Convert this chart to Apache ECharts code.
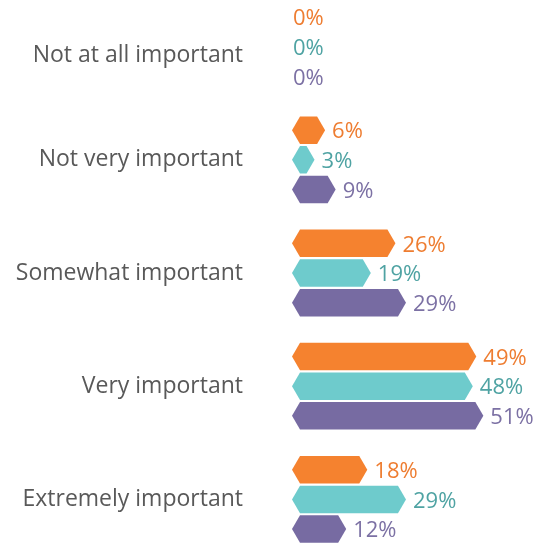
<!DOCTYPE html>
<html>
<head>
<meta charset="utf-8">
<script src="https://cdn.jsdelivr.net/npm/echarts@6/dist/echarts.min.js"></script>
<style>html,body{margin:0;padding:0;background:#fff;}#chart{width:540px;height:544px;}</style>
</head>
<body>
<div id="chart"></div>
<script>
const categories = ['Not at all important', 'Not very important', 'Somewhat important', 'Very important', 'Extremely important'];
const orangeValues = [0, 6, 26, 49, 18];
const tealValues = [0, 3, 19, 48, 29];
const purpleValues = [0, 9, 29, 51, 12];

const barColors = ['#F5822F', '#6ECBCC', '#776BA2'];
const labelColors = ['#EE7D31', '#4FA3A3', '#7C71A4'];
const FONT = '"Open Sans", sans-serif';

function makeRender(idx) {
  return function (params, api) {
    const v = api.value(0);
    const cat = api.value(1);
    const p = api.coord([v, cat]);
    const z = api.coord([0, cat]);
    const band = api.size([0, 1])[1];
    const pitch = band * 0.262;
    const h = band * 0.243;
    const cy = p[1] + (idx - 1) * pitch;
    const x0 = z[0] - 12, x1 = p[0];
    const children = [];
    if (v > 0) {
      const tip = Math.min(8, (x1 - x0) / 2);
      children.push({
        type: 'polygon',
        shape: { points: [[x0, cy], [x0 + tip, cy - h / 2], [x1 - tip, cy - h / 2], [x1, cy], [x1 - tip, cy + h / 2], [x0 + tip, cy + h / 2]] },
        style: { fill: barColors[idx] }
      });
    }
    children.push({
      type: 'text',
      style: {
        text: v + '%',
        x: v > 0 ? x1 + 7 : z[0] - 11,
        y: cy + 2,
        verticalAlign: 'middle',
        align: 'left',
        fill: labelColors[idx],
        fontSize: 22,
        fontFamily: FONT
      }
    });
    return { type: 'group', children: children };
  };
}

function toData(arr) { return arr.map((v, i) => [v, i]); }

const chart = echarts.init(document.getElementById('chart'));
chart.setOption({
  animation: false,
  grid: { left: 304, right: 25, top: -10, bottom: -12, outerBoundsMode: 'none' },
  xAxis: { type: 'value', min: 0, max: 60, show: false },
  yAxis: {
    type: 'category', inverse: true,
    data: categories,
    axisLine: { show: false }, axisTick: { show: false },
    axisLabel: {
      fontSize: 23, fontFamily: FONT, color: '#595959', margin: 61,
      formatter: (val, i) => i === 0 ? '{low|' + val + '}' : val,
      rich: { low: { fontSize: 23, fontFamily: FONT, color: '#595959', padding: [18, 0, 0, 0], verticalAlign: 'bottom' } }
    }
  },
  series: [
    { type: 'custom', renderItem: makeRender(0), data: toData(orangeValues), encode: { x: 0, y: 1 } },
    { type: 'custom', renderItem: makeRender(1), data: toData(tealValues), encode: { x: 0, y: 1 } },
    { type: 'custom', renderItem: makeRender(2), data: toData(purpleValues), encode: { x: 0, y: 1 } }
  ]
});
</script>
</body>
</html>
